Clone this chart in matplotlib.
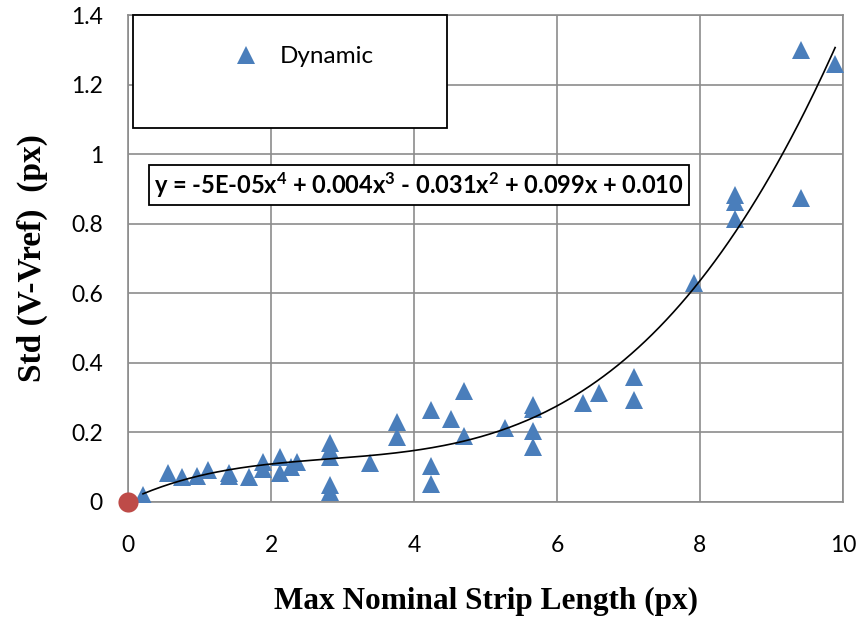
import numpy as np
import matplotlib
matplotlib.use('Agg')
import matplotlib.pyplot as plt
from matplotlib.patches import Rectangle

plt.rcParams['mathtext.fontset'] = 'custom'
plt.rcParams['mathtext.rm'] = 'Lato:bold'
plt.rcParams['mathtext.it'] = 'Lato:bold'
plt.rcParams['mathtext.bf'] = 'Lato:bold'

# Dynamic series (x: max nominal strip length, y: std)
dyn_x = [0.21, 0.56, 0.75, 0.96, 1.12, 1.41, 1.41, 1.69, 1.89, 1.89,
         2.13, 2.13, 2.28, 2.36, 2.83, 2.83, 2.83, 2.83, 2.83, 3.39,
         3.76, 3.76, 4.24, 4.24, 4.24, 4.52, 4.70, 4.70, 5.27, 5.66,
         5.66, 5.66, 5.66, 6.36, 6.59, 7.07, 7.07, 7.92, 8.49, 8.49,
         8.49, 9.41, 9.41, 9.89]
dyn_y = [0.020, 0.083, 0.073, 0.075, 0.092, 0.083, 0.075, 0.073, 0.116, 0.094,
         0.130, 0.083, 0.100, 0.116, 0.169, 0.149, 0.130, 0.049, 0.030, 0.112,
         0.230, 0.187, 0.264, 0.103, 0.052, 0.238, 0.320, 0.190, 0.212, 0.280,
         0.266, 0.204, 0.157, 0.285, 0.312, 0.360, 0.293, 0.630, 0.882, 0.863,
         0.813, 0.875, 1.300, 1.258]
origin_x = [0]
origin_y = [0]
eq_text = r'y = -5E-05x$^{4}$ + 0.004x$^{3}$ - 0.031x$^{2}$ + 0.099x + 0.010'

blue = '#4A7EBB'
red = '#BE4B48'
grid_c = '#8C8C8C'

fig = plt.figure(figsize=(8.6, 6.22), dpi=100)
ax = fig.add_axes([128/860, 1-502/622, 715/860, 487/622])

ax.plot(dyn_x, dyn_y, linestyle='none', marker='^', markersize=12.5,
        color=blue, markeredgewidth=0, label='Dynamic', zorder=3)

# 4th order trendline, fitted from the points
coef = np.polyfit(dyn_x, dyn_y, 4)
xs = np.linspace(min(dyn_x), max(dyn_x), 300)
ax.plot(xs, np.polyval(coef, xs), color='black', linewidth=1.2, zorder=4)

ax.plot(origin_x, origin_y, linestyle='none', marker='o', markersize=14.5,
        color=red, markeredgewidth=0, clip_on=False, zorder=5)

ax.set_xlim(0, 10)
ax.set_ylim(0, 1.4)
ax.set_xticks(np.arange(0, 11, 2))
ax.set_yticks(np.arange(0, 1.41, 0.2))
ax.set_yticklabels(['0', '0.2', '0.4', '0.6', '0.8', '1', '1.2', '1.4'])
ax.grid(True, color=grid_c, linewidth=1.2)
ax.set_axisbelow(True)
for s in ax.spines.values():
    s.set_color(grid_c)
    s.set_linewidth(1.2)
ax.tick_params(length=0, labelsize=16.5, colors='black')
ax.tick_params(axis='x', pad=24)
ax.tick_params(axis='y', pad=18)
for lab in ax.get_xticklabels() + ax.get_yticklabels():
    lab.set_family('Lato')

ax.set_xlabel('Max Nominal Strip Length (px)', family='Liberation Serif',
              fontweight='bold', fontsize=22.5, labelpad=22)
ax.set_ylabel('Std (V-Vref)  (px)', family='Liberation Serif',
              fontweight='bold', fontsize=24, labelpad=17)

# legend box
ax.add_patch(Rectangle((5/715, 1-113/487), 314/715, 113/487, transform=ax.transAxes,
                       facecolor='white', edgecolor='black', linewidth=1.3,
                       zorder=6, clip_on=False))
leg = ax.legend(loc='center', bbox_to_anchor=(0.246, 0.914), frameon=False,
                prop={'family': 'Lato', 'size': 17.5}, handletextpad=0.85,
                handlelength=1.0)
leg.set_zorder(7)

ax.text(0.407, 0.651, eq_text, transform=ax.transAxes, ha='center', va='center',
        family='Lato', fontweight='bold', fontsize=17, zorder=8,
        bbox=dict(boxstyle='square,pad=0.2', facecolor='white', edgecolor='black',
                  linewidth=1.3))

fig.savefig('out.png', dpi=100)
